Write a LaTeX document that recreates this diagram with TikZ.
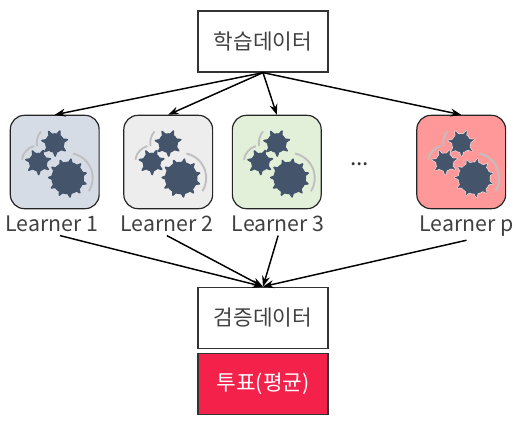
\documentclass[tikz,border=0pt]{standalone}
\usepackage{fontspec}
\setmainfont{Noto Sans CJK KR}
\usepackage{xcolor}
\usetikzlibrary{arrows.meta,positioning,calc}
\definecolor{gearblue}{HTML}{44546A}
\definecolor{arcgray}{HTML}{BFBFBF}
\definecolor{votered}{HTML}{F4214B}
\definecolor{txtgray}{HTML}{404040}
% one gear: centre x, centre y, body radius, tip radius, teeth, edge colour, edge width
\newcommand{\gearat}[7]{%
  \fill[draw=#6,line width=#7,line join=round] (#1,#2) circle (#3);
  \pgfmathsetmacro{\gearstep}{360/#5}
  \pgfmathsetmacro{\gearhalf}{105/#3}
  \foreach \i in {1,...,#5}{
    \pgfmathsetmacro{\gearang}{\i*\gearstep+15}
    \fill[draw=#6,line width=#7,line join=round]
      ($(#1,#2)+(\gearang-\gearhalf:#3-0.5)$) -- ($(#1,#2)+(\gearang:#4)$)
      -- ($(#1,#2)+(\gearang+\gearhalf:#3-0.5)$) -- cycle;
  }
}
\tikzset{
  pics/gears/.style={code={
    \begin{scope}[x=0.75pt,y=0.75pt]
      \draw[arcline] (13,-16)++(78:25) arc[start angle=78,end angle=-32,radius=25];
      \draw[arcline] (-16.5,0)++(172:16.5) arc[start angle=172,end angle=105,radius=16.5];
      \draw[arcline] (0,19)++(190:18) arc[start angle=190,end angle=140,radius=18];
      \begin{scope}[gearblue]
        % edge first, then the body over it
        \gearat{13}{-16}{15.5}{19}{11}{#1}{1.2pt}
        \gearat{-16.5}{0}{8.5}{12.5}{7}{#1}{1.2pt}
        \gearat{0}{19}{9}{13}{7}{#1}{1.2pt}
        \gearat{13}{-16}{15.5}{19}{11}{gearblue}{0.3pt}
        \gearat{-16.5}{0}{8.5}{12.5}{7}{gearblue}{0.3pt}
        \gearat{0}{19}{9}{13}{7}{gearblue}{0.3pt}
      \end{scope}
    \end{scope}
  }}
}
\begin{document}
\begin{tikzpicture}[
  x=0.75pt, y=0.75pt,
  databox/.style={rectangle, draw=black!80, line width=0.9pt, minimum width=3.43cm,
                  minimum height=1.61cm, align=center, font=\fontsize{16}{18}\selectfont,
                  text=txtgray, fill=white},
  votebox/.style={databox, fill=votered, text=white},
  learner/.style={rectangle, draw=black!85, line width=0.9pt, rounded corners=10.5pt,
                  minimum width=2.34cm, minimum height=2.46cm},
  learnertag/.style={font=\fontsize{16}{18}\selectfont, text=txtgray, inner sep=3pt},
  arcline/.style={draw=arcgray, line width=1.4pt},
  arrow/.style={-Stealth, line width=1.1pt, black}
]
  \useasboundingbox (0,0) rectangle (520,421);
  \node[databox] (train) at (263,379.5) {학습데이터};
  \node[learner,fill={rgb,255:red,214;green,220;blue,229},below=1.11cm of train,xshift=-5.49cm] (lrn1) {};
  \node[learner,fill={rgb,255:red,237;green,237;blue,237},right=0.62cm of lrn1] (lrn2) {};
  \node[learner,fill={rgb,255:red,226;green,240;blue,217},right=0.49cm of lrn2]  (lrn3) {};
  \node[learner,fill={rgb,255:red,255;green,153;blue,153},right=2.49cm of lrn3]  (lrnp) {};
  \node[right=0.62cm of lrn3,yshift=-2pt,font=\fontsize{17}{18}\selectfont,text=black!80] (dots) {...};

  \pic at (lrn1.center) {gears=gearblue};
  \pic at (lrn2.center) {gears=gearblue};
  \pic at (lrn3.center) {gears=gearblue};
  \pic at (lrnp.center) {gears=white!85!gray};

  \node[learnertag,below=0.05cm of lrn1,xshift=-2pt] (tag1) {Learner 1};
  \node[learnertag,below=0.05cm of lrn2,xshift=-1pt] (tag2) {Learner 2};
  \node[learnertag,below=0.05cm of lrn3,xshift=1pt] (tag3) {Learner 3};
  \node[learnertag,below=0.05cm of lrnp,xshift=4pt] (tagp) {Learner p};

  \node[databox,below=5.64cm of train] (valid) {검증데이터};
  \node[votebox,below=0.11cm of valid] (vote) {투표(평균)};

  \draw[arrow] (train.south) -- (lrn1.north);
  \draw[arrow] (train.south) -- (lrn2.north);
  \draw[arrow] (train.south) -- (lrn3.north);
  \draw[arrow] (train.south) -- (lrnp.north);
  \draw[arrow] ([xshift=6pt]tag1.south) -- (valid.north);
  \draw[arrow] (tag2.south) -- (valid.north);
  \draw[arrow] (tag3.south) -- (valid.north);
  \draw[arrow] (tagp.south) -- (valid.north);
\end{tikzpicture}
\end{document}
